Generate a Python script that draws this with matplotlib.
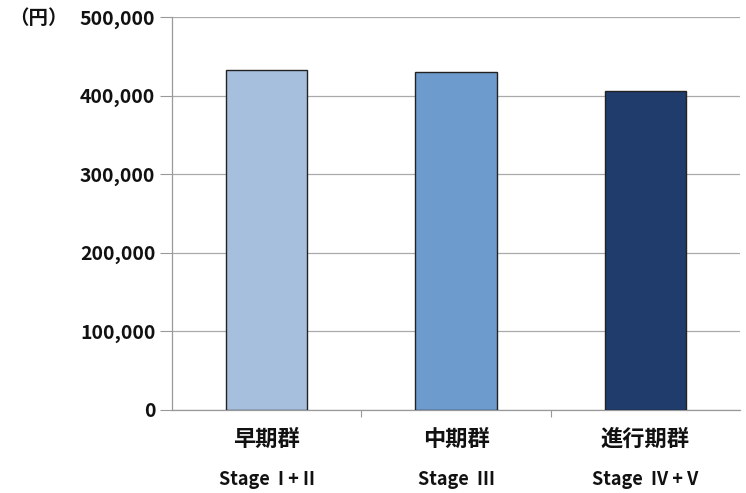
import numpy as np
import matplotlib.pyplot as plt

plt.rcParams['font.family'] = ['Noto Sans CJK JP', 'DejaVu Sans']

groups = ['早期群', '中期群', '進行期群']
stages = ['Stage  I + II', 'Stage  III', 'Stage  IV + V']
values = [432000, 430000, 406000]
colors = ['#a6bfdd', '#6e9bcd', '#1f3c6c']
yticks = [0, 100000, 200000, 300000, 400000, 500000]

fig = plt.figure(figsize=(7.46, 4.93), dpi=100)
ax = fig.add_axes([0.2306, 0.1684, 0.7614, 0.7971])

x = np.arange(len(values))
ax.bar(x, values, width=0.43, color=colors, edgecolor='#222222', linewidth=1.0, zorder=3)

ax.set_xlim(-0.5, 2.5)
ax.set_ylim(0, 500000)
ax.set_yticks(yticks)
ax.set_yticklabels([f'{v:,}' for v in yticks], fontsize=14, fontweight='bold', color='#111111')
ax.yaxis.grid(True, color='#aaaaaa', linewidth=0.9, zorder=0)
ax.tick_params(axis='y', length=9, color='#999999', pad=3)

ax.set_xticks([0.5, 1.5])
ax.set_xticklabels([])
ax.tick_params(axis='x', length=5, color='#999999', direction='out')

for s in ['top', 'right']:
    ax.spines[s].set_visible(False)
for s in ['left', 'bottom']:
    ax.spines[s].set_color('#999999')
    ax.spines[s].set_linewidth(0.9)

for i in x:
    ax.text(i, -0.075, groups[i], transform=ax.get_xaxis_transform(), ha='center', va='center',
            fontsize=16, fontweight='bold', color='#111111')
    ax.text(i, -0.178, stages[i], transform=ax.get_xaxis_transform(), ha='center', va='center',
            fontsize=13, fontweight='bold', color='#111111')

fig.text(0.012, 0.962, '（円）', ha='left', va='center', fontsize=14, fontweight='bold', color='#111111')

fig.savefig('out.png', dpi=100)
